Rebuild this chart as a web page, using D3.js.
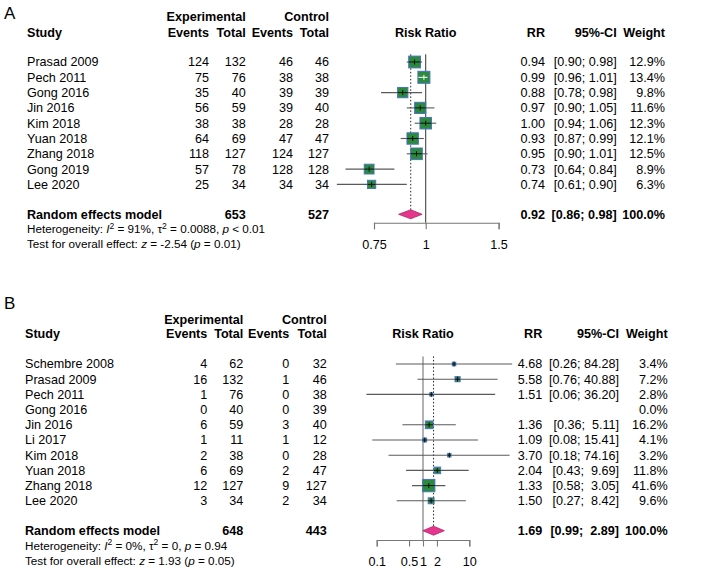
<!DOCTYPE html>
<html>
<head>
<meta charset="utf-8">
<script src="https://cdn.jsdelivr.net/npm/d3@7"></script>
<style>
  body { margin: 0; background: #fff; }
  text { font-family: "Liberation Sans", Arial, sans-serif; white-space: pre; }
</style>
</head>
<body>
<div id="chart"></div>
<script>
// Panel A data
const studiesA   = ["Prasad 2009", "Pech 2011", "Gong 2016", "Jin 2016", "Kim 2018", "Yuan 2018", "Zhang 2018", "Gong 2019", "Lee 2020"];
const expEventsA = [124, 75, 35, 56, 38, 64, 118, 57, 25];
const expTotalA  = [132, 76, 40, 59, 38, 69, 127, 78, 34];
const ctlEventsA = [46, 38, 39, 39, 28, 47, 124, 128, 34];
const ctlTotalA  = [46, 38, 39, 40, 28, 47, 127, 128, 34];
const rrA        = [0.94, 0.99, 0.88, 0.97, 1.00, 0.93, 0.95, 0.73, 0.74];
const lowerA     = [0.90, 0.96, 0.78, 0.90, 0.94, 0.87, 0.90, 0.64, 0.61];
const upperA     = [0.98, 1.01, 0.98, 1.05, 1.06, 0.99, 1.01, 0.84, 0.90];
const weightA    = [12.9, 13.4, 9.8, 11.6, 12.3, 12.1, 12.5, 8.9, 6.3];
const summaryA   = [0.92, 0.86, 0.98];   // rr, lower, upper
const totalsA    = [653, 527];
const hetA       = ["91%", "0.0088", "< 0.01"];  // I2, tau2, p
const testA      = ["-2.54", "= 0.01"];          // z, p
const ticksA     = [0.75, 1, 1.5];

// Panel B data
const studiesB   = ["Schembre 2008", "Prasad 2009", "Pech 2011", "Gong 2016", "Jin 2016", "Li 2017", "Kim 2018", "Yuan 2018", "Zhang 2018", "Lee 2020"];
const expEventsB = [4, 16, 1, 0, 6, 1, 2, 6, 12, 3];
const expTotalB  = [62, 132, 76, 40, 59, 11, 38, 69, 127, 34];
const ctlEventsB = [0, 1, 0, 0, 3, 1, 0, 2, 9, 2];
const ctlTotalB  = [32, 46, 38, 39, 40, 12, 28, 47, 127, 34];
const rrB        = [4.68, 5.58, 1.51, null, 1.36, 1.09, 3.70, 2.04, 1.33, 1.50];
const lowerB     = [0.26, 0.76, 0.06, null, 0.36, 0.08, 0.18, 0.43, 0.58, 0.27];
const upperB     = [84.28, 40.88, 36.20, null, 5.11, 15.41, 74.16, 9.69, 3.05, 8.42];
const weightB    = [3.4, 7.2, 2.8, 0.0, 16.2, 4.1, 3.2, 11.8, 41.6, 9.6];
const summaryB   = [1.69, 0.99, 2.89];
const totalsB    = [648, 443];
const hetB       = ["0%", "0", "= 0.94"];
const testB      = ["1.93", "= 0.05"];
const ticksB     = [0.1, 0.5, 1, 2, 10];

const width = 715, height = 576;
const svg = d3.create("svg").attr("width", width).attr("height", height);
svg.append("rect").attr("width", width).attr("height", height).attr("fill", "#fff");

const fs = 12.6;      // main font size
const fsSmall = 11.7; // heterogeneity lines
const sqFill = "#2b8a3b", sqStroke = "#4a72c8";
const diaFill = "#e6358c", diaStroke = "#a8286a";

function drawPanel(p) {
  const g = svg.append("g");
  const n = p.studies.length;
  const rowY = i => p.firstRow + i * p.step;

  const x = d3.scaleLog().domain(p.domain).range(p.range);

  // panel letter
  g.append("text").text(p.letter).attr("x", p.letterX).attr("y", p.letterY)
    .attr("font-size", 17);

  // header
  const head = (t, xx, yy, anchor) => g.append("text").text(t)
    .attr("x", xx).attr("y", yy).attr("dy", "0.35em")
    .attr("text-anchor", anchor).attr("font-weight", "bold").attr("font-size", fs);
  head("Experimental", p.cols[1], p.head1, "end");
  head("Control", p.cols[3], p.head1, "end");
  head("Study", p.studyX, p.head2, "start");
  head("Events", p.cols[0], p.head2, "end");
  head("Total", p.cols[1], p.head2, "end");
  head("Events", p.cols[2], p.head2, "end");
  head("Total", p.cols[3], p.head2, "end");
  head("Risk Ratio", x(1), p.head2, "middle");
  head("RR", p.rrX, p.head2, "end");
  head("95%-CI", p.ciX, p.head2, "end");
  head("Weight", p.wX, p.head2, "end");

  // CI label formatting
  const allLo = p.lower.concat([p.summary[1]]).filter(v => v != null).map(v => v.toFixed(2));
  const allHi = p.upper.concat([p.summary[2]]).filter(v => v != null).map(v => v.toFixed(2));
  const loLen = d3.max(allLo, s => s.length), hiLen = d3.max(allHi, s => s.length);
  const ciLabel = (lo, hi) => "[" + lo.toFixed(2).padStart(loLen) + "; " + hi.toFixed(2).padStart(hiLen) + "]";

  const cell = (t, xx, yy, anchor, bold) => g.append("text").text(t)
    .attr("x", xx).attr("y", yy).attr("dy", "0.35em")
    .attr("text-anchor", anchor).attr("font-size", fs)
    .attr("font-weight", bold ? "bold" : null);

  // reference line at 1 and dotted line at summary
  const topY = rowY(0) - p.step / 2;
  g.append("line").attr("x1", x(1)).attr("x2", x(1)).attr("y1", topY).attr("y2", p.axisY)
    .attr("stroke", p.refColor).attr("stroke-width", p.refWidth);
  g.append("line").attr("x1", x(p.summary[0])).attr("x2", x(p.summary[0]))
    .attr("y1", topY).attr("y2", p.sumY - 4.5)
    .attr("stroke", "#222").attr("stroke-width", 1).attr("stroke-dasharray", "1.5,2");

  const maxW = d3.max(p.weight);
  for (let i = 0; i < n; i++) {
    const y = rowY(i);
    cell(p.studies[i], p.studyX, y, "start");
    cell(p.expEvents[i], p.cols[0], y, "end");
    cell(p.expTotal[i], p.cols[1], y, "end");
    cell(p.ctlEvents[i], p.cols[2], y, "end");
    cell(p.ctlTotal[i], p.cols[3], y, "end");
    cell(p.weight[i].toFixed(1) + "%", p.wX, y, "end");
    if (p.rr[i] == null) continue;
    cell(p.rr[i].toFixed(2), p.rrX, y, "end");
    cell(ciLabel(p.lower[i], p.upper[i]), p.ciX, y, "end");

    // CI line, square, inner line
    const xl = x(p.lower[i]), xu = x(p.upper[i]), xm = x(p.rr[i]);
    g.append("line").attr("x1", xl).attr("x2", xu).attr("y1", y).attr("y2", y)
      .attr("stroke", "#5a5a5a").attr("stroke-width", 1.1);
    const s = p.maxSide * Math.sqrt(p.weight[i] / maxW);
    g.append("rect").attr("x", xm - s / 2).attr("y", y - s / 2).attr("width", s).attr("height", s)
      .attr("fill", sqFill).attr("stroke", sqStroke).attr("stroke-width", 1);
    const inside = xl > xm - s / 2 && xu < xm + s / 2;
    const col = inside ? "#fff" : "#111";
    g.append("line").attr("x1", Math.max(xl, xm - s / 2)).attr("x2", Math.min(xu, xm + s / 2))
      .attr("y1", y).attr("y2", y).attr("stroke", col).attr("stroke-width", 1);
    g.append("line").attr("x1", xm).attr("x2", xm).attr("y1", y - 2.5).attr("y2", y + 2.5)
      .attr("stroke", col).attr("stroke-width", 1);
  }

  // summary row
  cell("Random effects model", p.studyX, p.sumY, "start", true);
  cell(p.totals[0], p.cols[1], p.sumY, "end", true);
  cell(p.totals[1], p.cols[3], p.sumY, "end", true);
  cell(p.summary[0].toFixed(2), p.rrX, p.sumY, "end", true);
  cell(ciLabel(p.summary[1], p.summary[2]), p.ciX, p.sumY, "end", true);
  cell("100.0%", p.wX, p.sumY, "end", true);

  const dh = 4.5;
  const dpts = [[x(p.summary[1]), p.sumY], [x(p.summary[0]), p.sumY - dh],
                [x(p.summary[2]), p.sumY], [x(p.summary[0]), p.sumY + dh]];
  g.append("polygon").attr("points", dpts.map(d => d.join(",")).join(" "))
    .attr("fill", diaFill).attr("stroke", diaStroke).attr("stroke-width", 0.8);

  // heterogeneity and overall test
  const het = g.append("text").attr("x", p.studyX).attr("y", p.hetY).attr("dy", "0.35em")
    .attr("font-size", fsSmall);
  het.append("tspan").text("Heterogeneity: ");
  het.append("tspan").text("I").attr("font-style", "italic");
  het.append("tspan").text("2").attr("font-size", 8.5).attr("dy", -4.5);
  het.append("tspan").text(" = " + p.het[0] + ", τ").attr("dy", 4.5);
  het.append("tspan").text("2").attr("font-size", 8.5).attr("dy", -4.5);
  het.append("tspan").text(" = " + p.het[1] + ", ").attr("dy", 4.5);
  het.append("tspan").text("p").attr("font-style", "italic");
  het.append("tspan").text(" " + p.het[2]);

  const tst = g.append("text").attr("x", p.studyX).attr("y", p.testY).attr("dy", "0.35em")
    .attr("font-size", fsSmall);
  tst.append("tspan").text("Test for overall effect: ");
  tst.append("tspan").text("z").attr("font-style", "italic");
  tst.append("tspan").text(" = " + p.test[0] + " (");
  tst.append("tspan").text("p").attr("font-style", "italic");
  tst.append("tspan").text(" " + p.test[1] + ")");

  // axis
  const ax = g.append("g").attr("transform", `translate(0,${p.axisY})`)
    .call(d3.axisBottom(x).tickValues(p.ticks).tickFormat(d => String(d)).tickSizeOuter(0).tickSize(6.5));
  ax.select(".domain").attr("stroke", "#777").attr("stroke-width", 1.1);
  ax.selectAll(".tick line").attr("stroke", "#777").attr("stroke-width", 1.1);
  ax.selectAll(".tick text").attr("font-size", fs).attr("fill", "#000")
    .attr("font-family", "'Liberation Sans', Arial, sans-serif").attr("dy", 0).attr("y", p.tickLabelY - p.axisY + 4.4);
}

drawPanel({
  letter: "A", letterX: 4, letterY: 18.5,
  studies: studiesA, expEvents: expEventsA, expTotal: expTotalA, ctlEvents: ctlEventsA, ctlTotal: ctlTotalA,
  rr: rrA, lower: lowerA, upper: upperA, weight: weightA, summary: summaryA, totals: totalsA,
  het: hetA, test: testA, ticks: ticksA,
  domain: [0.75, 1.5], range: [374, 498.6],
  studyX: 27, cols: [209, 245.7, 293, 329], rrX: 545, ciX: 616.7, wX: 665,
  head1: 16.7, head2: 32.7, firstRow: 62, step: 15.3, sumY: 214.3, hetY: 229.3, testY: 244.3,
  axisY: 222.7, tickLabelY: 245, maxSide: 12, refColor: "#333", refWidth: 1
});

drawPanel({
  letter: "B", letterX: 4, letterY: 309,
  studies: studiesB, expEvents: expEventsB, expTotal: expTotalB, ctlEvents: ctlEventsB, ctlTotal: ctlTotalB,
  rr: rrB, lower: lowerB, upper: upperB, weight: weightB, summary: summaryB, totals: totalsB,
  het: hetB, test: testB, ticks: ticksB,
  domain: [0.1, 10], range: [376.7, 469.3],
  studyX: 25, cols: [207.3, 243.3, 289.3, 326.7], rrX: 542.3, ciX: 619, wX: 667.7,
  head1: 319.3, head2: 333.3, firstRow: 364, step: 15.2, sumY: 530.7, hetY: 545.7, testY: 561,
  axisY: 540, tickLabelY: 561.7, maxSide: 12.3, refColor: "#999", refWidth: 1.5
});

document.getElementById("chart").append(svg.node());
</script>
</body>
</html>
